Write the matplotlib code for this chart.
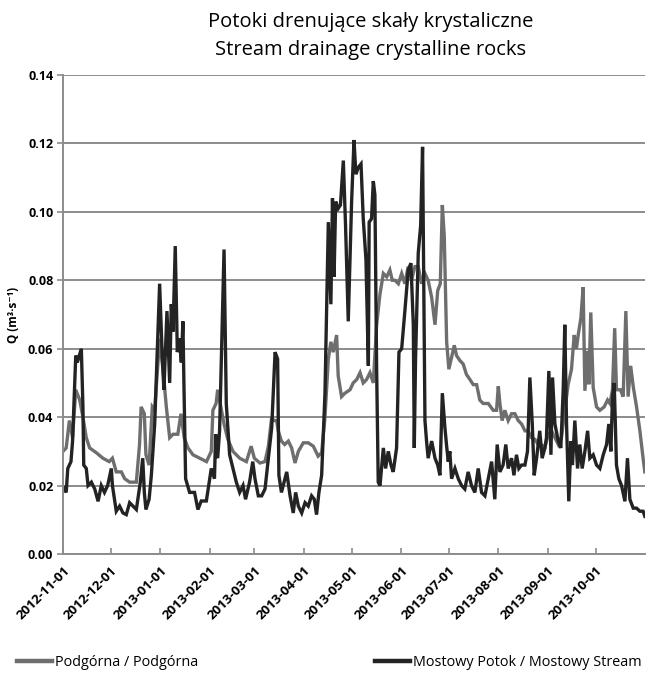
import numpy as np
import pandas as pd
import matplotlib
matplotlib.use("Agg")
import matplotlib.pyplot as plt
import matplotlib.dates as mdates
import matplotlib.transforms as mtransforms

plt.rcParams['font.family'] = ['Open Sans', 'DejaVu Sans']

start = pd.Timestamp('2012-11-01')
end = pd.Timestamp('2013-11-01')

# Podgórna - daily discharge, day offset from 2012-11-01 and Q [m3/s]
podg_day = [0, 2, 4, 6, 8, 10.5, 12.5, 14.6, 16.7, 20.9, 25, 29, 31, 33.4, 36.6, 38.7, 41.8, 46, 48, 49,
            51, 52, 54, 56, 57.5, 60.6, 62.7, 64.8, 66.9, 69, 72, 74, 76, 78.4, 81.5, 85.7, 90, 93, 94, 96,
            97, 99, 101, 103.4, 106.6, 110.8, 115, 118, 120, 123.5, 126.7, 128.8, 130.9, 132, 134, 135, 137,
            139, 141.3, 143.4, 145.5, 147.6, 150.7, 153.8, 157, 160, 162.2, 164.3, 166.4, 168, 169.5, 171.6,
            172.6, 174.7, 176.8, 180, 182, 184.2, 186.3, 188.3, 190.4, 192.5, 194.6, 196.7, 198.8, 200.9,
            203, 205, 206.5, 208.2, 210.3, 212.4, 214.4, 216.5, 218.6, 220.7, 222.8, 224.9, 227, 229, 231.2,
            233.3, 235, 236.6, 237.9, 239.1, 240.6, 242, 243.7, 245.4, 246.8, 249, 251, 253, 255.2, 257.3,
            259.4, 261.4, 263.5, 266.7, 269.8, 271.9, 273, 274, 275.4, 277.1, 279.2, 281.3, 283.4, 285.5,
            287.6, 289.7, 291.7, 293.8, 296, 298, 300, 302.2, 304.3, 306.4, 308.5, 310.6, 312.6, 314.7,
            316.8, 318.9, 320.6, 322, 323.1, 324.8, 326.2, 327.3, 329, 329.8, 331, 332.5, 334.6, 336.7,
            339.4, 341.5, 343, 344.6, 346, 347.1, 349.6, 351.3, 353, 354.4, 356, 357.6, 359.7, 361.8,
            363.8, 364.9]
podg_q = [0.030, 0.031, 0.039, 0.034, 0.048, 0.045, 0.040, 0.034, 0.031, 0.0296, 0.028, 0.027, 0.028, 0.024,
          0.024, 0.022, 0.021, 0.021, 0.032, 0.043, 0.041, 0.029, 0.026, 0.043, 0.042, 0.063, 0.054, 0.043,
          0.034, 0.035, 0.035, 0.041, 0.034, 0.031, 0.029, 0.028, 0.027, 0.030, 0.042, 0.044, 0.048, 0.043,
          0.038, 0.0335, 0.030, 0.028, 0.027, 0.0315, 0.028, 0.0266, 0.027, 0.0315, 0.040, 0.039, 0.039,
          0.036, 0.033, 0.032, 0.033, 0.031, 0.0266, 0.030, 0.0325, 0.0325, 0.0315, 0.0286, 0.0296, 0.040,
          0.057, 0.062, 0.059, 0.064, 0.052, 0.046, 0.047, 0.048, 0.050, 0.051, 0.053, 0.050, 0.051, 0.053,
          0.050, 0.067, 0.076, 0.082, 0.081, 0.083, 0.080, 0.080, 0.079, 0.082, 0.079, 0.084, 0.080, 0.084,
          0.084, 0.079, 0.082, 0.080, 0.075, 0.067, 0.077, 0.079, 0.102, 0.093, 0.062, 0.054, 0.0575, 0.061,
          0.058, 0.0565, 0.0555, 0.0525, 0.051, 0.0495, 0.0495, 0.045, 0.044, 0.044, 0.042, 0.042, 0.049,
          0.044, 0.039, 0.042, 0.039, 0.041, 0.041, 0.039, 0.038, 0.036, 0.036, 0.034, 0.0335, 0.032, 0.032,
          0.031, 0.035, 0.036, 0.034, 0.032, 0.034, 0.042, 0.0495, 0.054, 0.064, 0.060, 0.064, 0.069, 0.078,
          0.0477, 0.0594, 0.0496, 0.0706, 0.0487, 0.043, 0.042, 0.043, 0.045, 0.044, 0.048, 0.066, 0.048,
          0.048, 0.046, 0.071, 0.046, 0.055, 0.049, 0.043, 0.036, 0.028, 0.024]

# Mostowy Potok
most_day = [0, 2, 3, 5, 6, 8, 9, 11.5, 12.5, 13, 14.6, 15.7, 17.8, 19.9, 22, 24, 26, 28, 30.3, 31, 33.4,
            35.5, 37.6, 39.7, 41.8, 43.9, 46, 48.5, 50, 51, 52, 54, 55.4, 57.5, 60.6, 62.3, 63.3, 65.2, 66.9,
            67.9, 69, 70.4, 71.7, 73, 74.2, 75.2, 75.9, 76.9, 79.4, 82.5, 84.6, 86.7, 89.9, 93, 95, 95.7, 97,
            98.2, 101, 102.4, 104.5, 106.6, 108.7, 110.8, 112.9, 114.5, 117, 119, 120.4, 122.5, 124.6, 126.7,
            128.8, 130.9, 133, 134.6, 135.4, 137, 140.3, 142.4, 144.4, 145.9, 147.6, 149.7, 151.8, 153.8,
            155.9, 157.6, 159, 160.5, 162.2, 164.3, 165.3, 166.4, 168, 169, 170, 171, 172.6, 174, 175.8,
            177.2, 178.9, 180, 181, 182.5, 183.7, 185.2, 186.9, 188.3, 190, 191.5, 192, 193.5, 194.6, 195.6,
            196.7, 197.7, 198.8, 200.9, 202.3, 204, 205.7, 207.1, 209.2, 210.7, 212.4, 214.4, 216.5, 218.2,
            219.7, 220.3, 221.1, 222.8, 224.3, 225.5, 227, 228, 229, 231.2, 233.3, 235, 236.4, 237.9, 239.5,
            240.5, 241.6, 242.6, 243.7, 245.8, 247.9, 250, 252, 254.1, 256.2, 258.3, 260.4, 262.5, 264.6,
            266.7, 268.8, 270.8, 272.3, 274, 276, 277.7, 279.2, 281.3, 282.8, 284.4, 285.9, 287.6, 289.7,
            291.3, 292.8, 294.3, 295.5, 297, 299, 300.5, 302.2, 303.2, 304.7, 306, 307, 308.5, 310.6, 312.2,
            313.7, 314.7, 315.8, 317.2, 318.5, 319.5, 321, 322.7, 324.1, 325.6, 327.3, 329, 330.4, 332.5,
            334.6, 336.7, 338.8, 340.9, 342.3, 343.6, 344.6, 345.7, 347.1, 348.6, 350.3, 352.4, 354, 355.5,
            357.6, 359.7, 361.8, 363.8, 364.9]
most_q = [0.0197, 0.018, 0.025, 0.027, 0.033, 0.058, 0.056, 0.060, 0.043, 0.026, 0.025, 0.020, 0.021, 0.019,
          0.0154, 0.020, 0.018, 0.020, 0.025, 0.020, 0.0125, 0.014, 0.012, 0.0115, 0.015, 0.014, 0.013, 0.021,
          0.028, 0.018, 0.013, 0.016, 0.023, 0.038, 0.079, 0.057, 0.048, 0.071, 0.050, 0.073, 0.065, 0.090,
          0.059, 0.063, 0.056, 0.068, 0.048, 0.022, 0.018, 0.018, 0.013, 0.0155, 0.0155, 0.025, 0.022, 0.035,
          0.028, 0.036, 0.089, 0.044, 0.029, 0.025, 0.021, 0.018, 0.020, 0.016, 0.021, 0.027, 0.022, 0.017,
          0.017, 0.019, 0.028, 0.037, 0.059, 0.057, 0.023, 0.018, 0.024, 0.017, 0.012, 0.018, 0.014, 0.012,
          0.015, 0.014, 0.017, 0.016, 0.0115, 0.018, 0.023, 0.047, 0.071, 0.097, 0.073, 0.104, 0.081, 0.103,
          0.101, 0.102, 0.115, 0.096, 0.068, 0.086, 0.103, 0.121, 0.111, 0.113, 0.114, 0.098, 0.086, 0.055,
          0.097, 0.098, 0.109, 0.105, 0.054, 0.021, 0.020, 0.031, 0.025, 0.030, 0.026, 0.024, 0.031, 0.059,
          0.060, 0.071, 0.083, 0.085, 0.067, 0.031, 0.057, 0.088, 0.096, 0.119, 0.039, 0.033, 0.028, 0.033,
          0.028, 0.026, 0.023, 0.047, 0.037, 0.032, 0.027, 0.030, 0.022, 0.025, 0.022, 0.020, 0.019, 0.024,
          0.020, 0.018, 0.025, 0.018, 0.017, 0.022, 0.027, 0.016, 0.032, 0.024, 0.026, 0.032, 0.025, 0.028,
          0.023, 0.029, 0.025, 0.026, 0.026, 0.030, 0.0516, 0.038, 0.023, 0.028, 0.036, 0.028, 0.031, 0.034,
          0.0535, 0.029, 0.0516, 0.038, 0.033, 0.031, 0.048, 0.067, 0.038, 0.0154, 0.033, 0.026, 0.039,
          0.025, 0.032, 0.025, 0.030, 0.036, 0.028, 0.029, 0.026, 0.025, 0.029, 0.032, 0.038, 0.030, 0.0457,
          0.050, 0.026, 0.022, 0.020, 0.0154, 0.028, 0.016, 0.0134, 0.0134, 0.0125, 0.0125, 0.011]

month_ticks = pd.date_range('2012-11-01', '2013-10-01', freq='MS')
y_ticks = np.arange(0, 0.141, 0.02)

podg_dates = start + pd.to_timedelta(podg_day, unit='D')
most_dates = start + pd.to_timedelta(most_day, unit='D')

fig = plt.figure(figsize=(6.49, 6.78), dpi=100)
ax = fig.add_axes([63 / 649, 1 - 554 / 678, 582 / 649, 479 / 678])

ax.plot(podg_dates, podg_q, color='#6e6e6e', lw=2.4, label='Podgórna / Podgórna', solid_joinstyle='miter')
ax.plot(most_dates, most_q, color='#232323', lw=2.4, label='Mostowy Potok / Mostowy Stream',
        solid_joinstyle='miter')

ax.set_xlim(start, end)
ax.set_ylim(0, 0.14)
ax.set_yticks(y_ticks)
ax.set_yticklabels([f'{v:.2f}' for v in y_ticks], fontsize=9, fontweight='bold')
ax.set_xticks(month_ticks)
ax.xaxis.set_major_formatter(mdates.DateFormatter('%Y-%m-%d'))
# shift the slanted date labels a little to the right of their ticks
shift = mtransforms.ScaledTranslation(8 / 100, 0, fig.dpi_scale_trans)
for lab in ax.get_xticklabels():
    lab.set_rotation(45)
    lab.set_ha('right')
    lab.set_rotation_mode('anchor')
    lab.set_fontsize(9.6)
    lab.set_fontweight('bold')
    lab.set_transform(lab.get_transform() + shift)

ax.grid(axis='y', color='#8c8c8c', lw=1.4)
ax.set_axisbelow(True)
for s in ['top', 'right']:
    ax.spines[s].set_visible(False)
for s in ['left', 'bottom']:
    ax.spines[s].set_color('#8c8c8c')
    ax.spines[s].set_linewidth(1.4)
ax.tick_params(axis='y', direction='out', length=4, color='#8c8c8c', width=1.2, pad=3)
ax.tick_params(axis='x', direction='in', length=4, color='#8c8c8c', width=1.2, pad=7)

ax.set_ylabel('Q (m³·s⁻¹)', fontsize=8.5, fontweight='bold', labelpad=6)

fig.text(371 / 649, 1 - 36 / 678, 'Potoki drenujące skały krystaliczne\nStream drainage crystalline rocks',
         ha='center', va='center', fontsize=14.5, linespacing=1.55)

leg = fig.legend(loc='center left', bbox_to_anchor=(4 / 649, 1 - 663 / 678), ncol=2, frameon=False,
                 fontsize=10.4, handlelength=2.45, handletextpad=0.2, columnspacing=12.2)
for line in leg.get_lines():
    line.set_linewidth(3.2)

fig.savefig('out.png', dpi=100)
